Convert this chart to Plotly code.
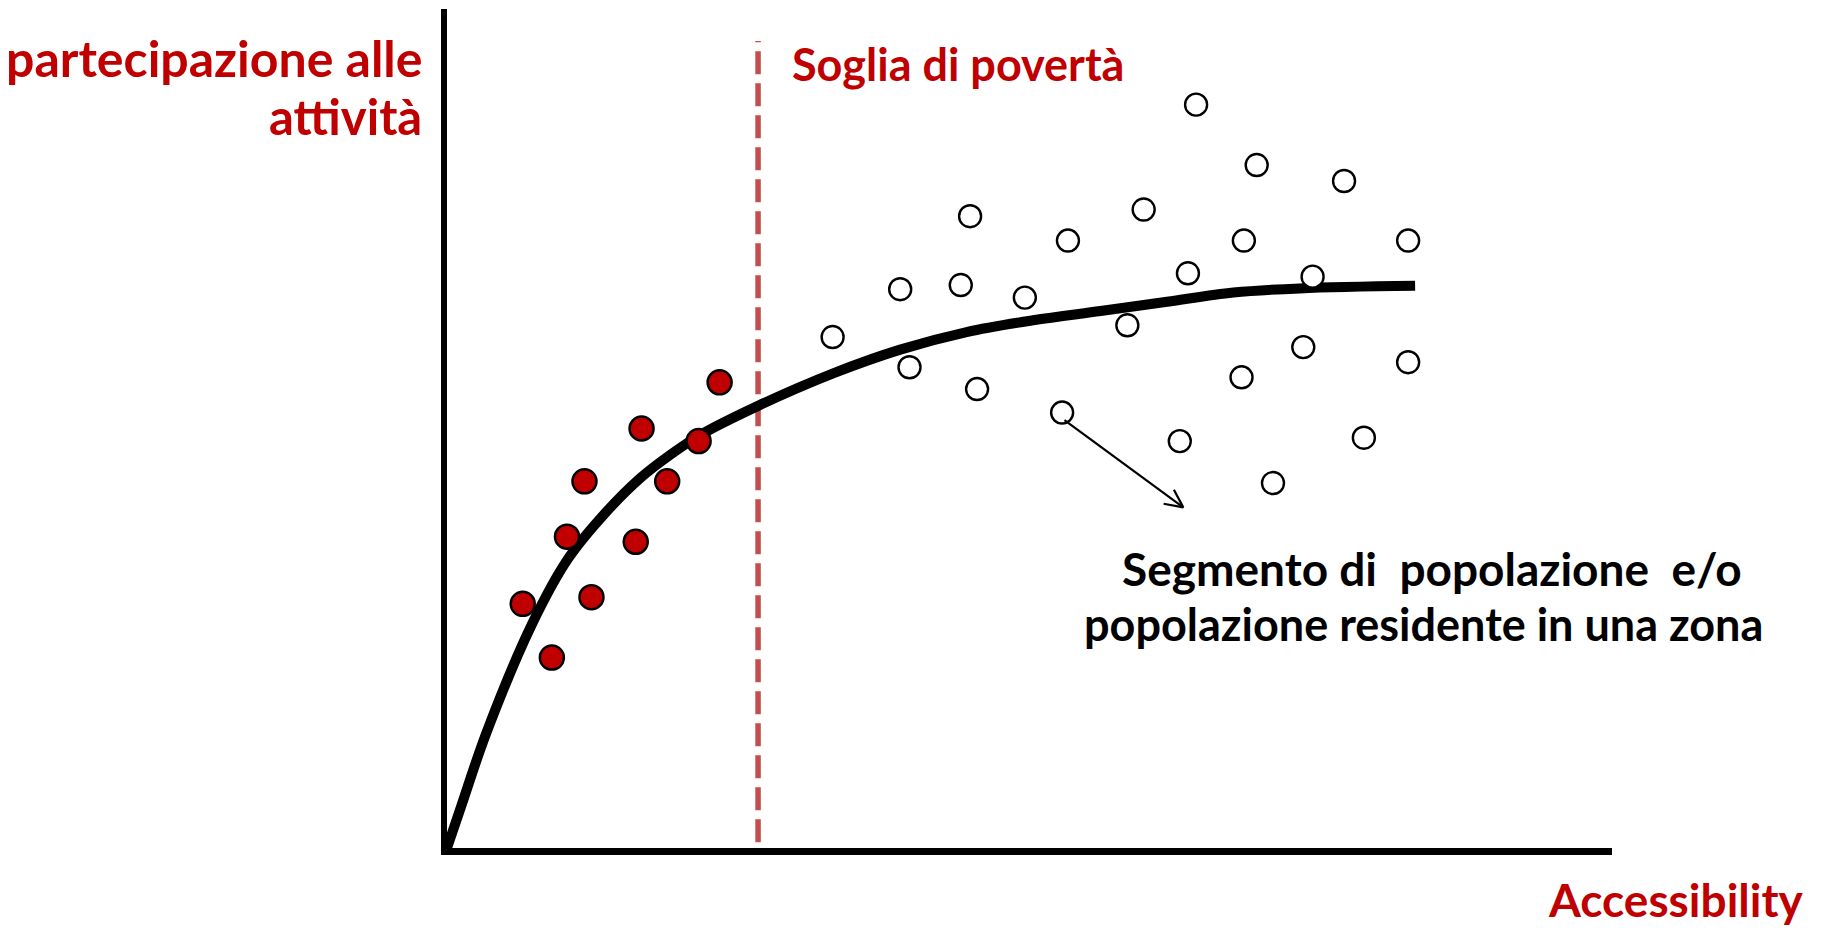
import math
import plotly.graph_objects as go

# Curva di partecipazione (assi 0-100)
curva_x = [0, 1.2, 3.4, 7.3, 10.4, 13.5, 16.6, 19.2, 21.7, 26.7, 33.2, 38.9, 44.6, 50.3, 56.1, 61.8, 67.5, 73.2, 83.1]
curva_y = [0, 4.9, 13.8, 26.7, 34.5, 39.8, 44.1, 46.9, 49.2, 52.7, 56.6, 59.4, 61.5, 62.9, 64.0, 65.1, 66.2, 66.7, 67.0]

# Segmenti sotto la soglia di povertà (punti rossi)
poveri_x = [6.5, 9.0, 10.3, 12.4, 11.8, 16.2, 16.7, 18.9, 21.6, 23.4]
poveri_y = [29.1, 22.7, 37.1, 29.9, 43.7, 36.5, 50.0, 43.7, 48.5, 55.5]

# Altri segmenti di popolazione (cerchi vuoti)
altri_x = [64.3, 69.5, 77.0, 44.9, 59.8, 53.3, 68.4, 82.5, 38.9, 44.1, 49.6, 63.6,
           74.3, 58.4, 33.1, 39.7, 45.5, 73.5, 68.2, 82.5, 52.8, 62.9, 78.7, 70.9]
altri_y = [88.6, 81.4, 79.5, 75.3, 76.1, 72.4, 72.4, 72.4, 66.6, 67.1, 65.6, 68.5,
           68.1, 62.3, 60.9, 57.3, 54.7, 59.7, 56.1, 57.9, 51.9, 48.5, 48.9, 43.5]

# Soglia di povertà
soglia_x = 26.7
soglia_y = [0.7, 96.2]

# Freccia: dal cerchio al testo
freccia_da = (53.0, 51.0)
freccia_a = (63.2, 40.6)

ROSSO = '#C00000'
FONT = 'Lato'

# area del grafico in pixel
L, R, T, B = 447, 1612, 9, 848
SX = (R - L) / 100.0   # pixel per unità x
SY = (B - T) / 100.0   # pixel per unità y


def px(x, y):
    return (x - L) / (R - L), (B - y) / (B - T)


# punta aperta a V della freccia, calcolata in pixel
dx = (freccia_a[0] - freccia_da[0]) * SX
dy = (freccia_a[1] - freccia_da[1]) * SY
ang = math.atan2(dy, dx)
lung = 20
punta_x, punta_y = [], []
for d in (0.45, None, -0.45):
    if d is None:
        punta_x.append(freccia_a[0])
        punta_y.append(freccia_a[1])
    else:
        a = ang + math.pi + d
        punta_x.append(freccia_a[0] + lung * math.cos(a) / SX)
        punta_y.append(freccia_a[1] + lung * math.sin(a) / SY)

fig = go.Figure()

fig.add_trace(go.Scatter(
    x=[soglia_x, soglia_x], y=soglia_y, mode='lines',
    line=dict(color='#C0504D', width=5.5, dash='23px,9px'),
    hoverinfo='skip'
))

fig.add_trace(go.Scatter(
    x=curva_x, y=curva_y, mode='lines',
    line=dict(color='black', width=10, shape='spline', smoothing=1.0),
    hoverinfo='skip'
))

fig.add_trace(go.Scatter(
    x=poveri_x, y=poveri_y, mode='markers',
    marker=dict(size=24, color=ROSSO, line=dict(color='black', width=2.5)),
    cliponaxis=False
))

fig.add_trace(go.Scatter(
    x=altri_x, y=altri_y, mode='markers',
    marker=dict(size=22, color='white', line=dict(color='black', width=2.4)),
    cliponaxis=False
))

# freccia
fig.add_trace(go.Scatter(
    x=[freccia_da[0], freccia_a[0]], y=[freccia_da[1], freccia_a[1]], mode='lines',
    line=dict(color='black', width=2.2), hoverinfo='skip'
))
fig.add_trace(go.Scatter(
    x=punta_x, y=punta_y, mode='lines',
    line=dict(color='black', width=2.2), hoverinfo='skip'
))

testi = [
    ('partecipazione alle', 424, 58, 'right', ROSSO, 50),
    ('attività', 424, 116, 'right', ROSSO, 49),
    ('Soglia di povertà', 790, 64, 'left', ROSSO, 45),
    ('Accessibility', 1806, 899, 'right', ROSSO, 46),
    ('Segmento di  popolazione  e/o', 1432, 569, 'center', 'black', 46),
    ('popolazione residente in una zona', 1423, 624, 'center', 'black', 45),
]
for t, x, y, anc, col, size in testi:
    xp, yp = px(x, y)
    fig.add_annotation(
        x=xp, y=yp, xref='paper', yref='paper', text=t, showarrow=False,
        xanchor=anc, yanchor='middle',
        font=dict(family=FONT, size=size, color=col, weight='bold')
    )

fig.update_layout(
    width=1821, height=930,
    margin=dict(l=L, r=1821 - R, t=T, b=930 - B),
    plot_bgcolor='white', paper_bgcolor='white',
    showlegend=False,
    xaxis=dict(range=[0, 100], showgrid=False, zeroline=False, showticklabels=False,
               ticks='', showline=True, linewidth=7, linecolor='black', fixedrange=True),
    yaxis=dict(range=[0, 100], showgrid=False, zeroline=False, showticklabels=False,
               ticks='', showline=True, linewidth=6, linecolor='black', fixedrange=True),
)

fig.write_html("out.html", config={'displayModeBar': False},
               post_script="document.body.style.margin='0';document.body.style.overflow='hidden';")
